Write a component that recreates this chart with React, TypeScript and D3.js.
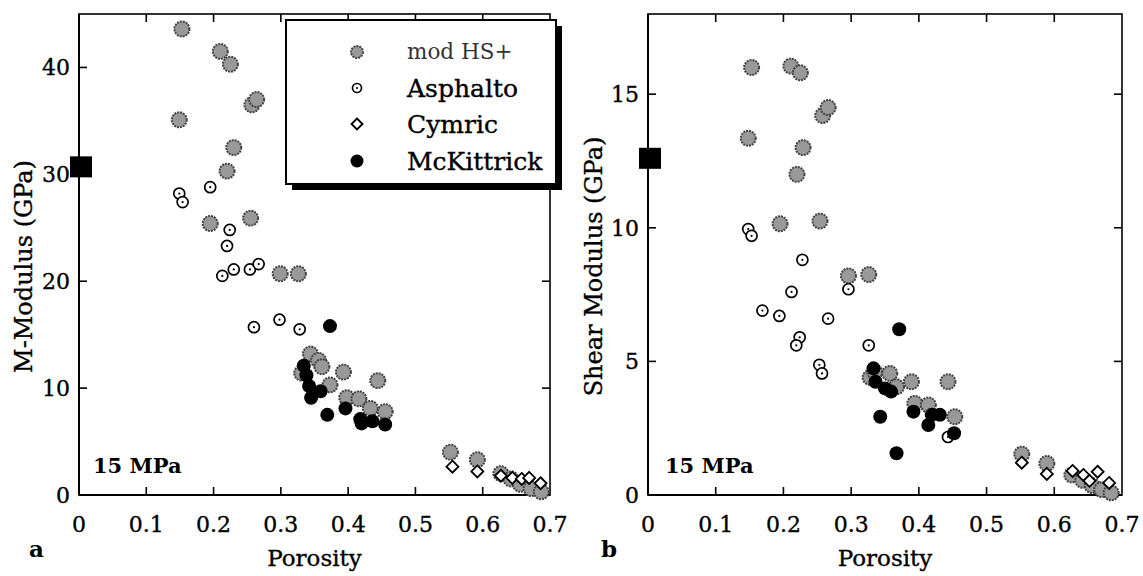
import React from 'react';
import * as d3 from 'd3';

type Pt = [number, number];

const xTicks = [0, 0.1, 0.2, 0.3, 0.4, 0.5, 0.6, 0.7];
const mTicks = [0, 10, 20, 30, 40];
const sTicks = [0, 5, 10, 15];

// Panel a: M-Modulus (GPa) vs porosity
const modHS_M: Pt[] = [
  [0.153, 43.6], [0.21, 41.5], [0.225, 40.3], [0.257, 36.5], [0.264, 37.0], [0.149, 35.1],
  [0.23, 32.5], [0.22, 30.3], [0.195, 25.4], [0.255, 25.9], [0.299, 20.7], [0.326, 20.7],
  [0.331, 11.4], [0.344, 13.2], [0.356, 12.6], [0.361, 12.0], [0.373, 10.3], [0.393, 11.5],
  [0.444, 10.7], [0.398, 9.1], [0.416, 9.0], [0.433, 8.1], [0.455, 7.8],
  [0.552, 4.0], [0.592, 3.3], [0.627, 2.0], [0.642, 1.5], [0.656, 1.0], [0.672, 0.6], [0.687, 0.3],
];
const asphalto_M: Pt[] = [
  [0.149, 28.2], [0.154, 27.4], [0.195, 28.8], [0.224, 24.8], [0.22, 23.3], [0.213, 20.5],
  [0.23, 21.1], [0.254, 21.1], [0.267, 21.6], [0.26, 15.7], [0.298, 16.4], [0.328, 15.5],
];
const cymric_M: Pt[] = [
  [0.555, 2.65], [0.592, 2.2], [0.627, 1.8], [0.644, 1.6], [0.658, 1.5], [0.669, 1.6], [0.686, 1.1],
];
const mckittrick_M: Pt[] = [
  [0.373, 15.8], [0.334, 12.1], [0.338, 11.2], [0.342, 10.2], [0.345, 9.1], [0.359, 9.7],
  [0.369, 7.5], [0.396, 8.1], [0.418, 7.1], [0.42, 6.7], [0.436, 6.9], [0.455, 6.6],
];
const mineral_M = 30.7;

// Panel b: Shear Modulus (GPa) vs porosity
const modHS_S: Pt[] = [
  [0.153, 16.0], [0.211, 16.05], [0.225, 15.8], [0.258, 14.2], [0.266, 14.5], [0.148, 13.35],
  [0.229, 13.0], [0.22, 12.0], [0.195, 10.15], [0.254, 10.25], [0.296, 8.2], [0.326, 8.25],
  [0.328, 4.4], [0.335, 4.6], [0.357, 4.55], [0.367, 4.05], [0.389, 4.24], [0.443, 4.24],
  [0.394, 3.43], [0.414, 3.37], [0.453, 2.93],
  [0.552, 1.53], [0.589, 1.18], [0.626, 0.75], [0.642, 0.55], [0.656, 0.35], [0.67, 0.2], [0.684, 0.08],
];
const asphalto_S: Pt[] = [
  [0.148, 9.95], [0.153, 9.7], [0.228, 8.8], [0.212, 7.6], [0.169, 6.9], [0.194, 6.7],
  [0.266, 6.6], [0.224, 5.9], [0.219, 5.6], [0.253, 4.87], [0.257, 4.55], [0.296, 7.7],
  [0.326, 5.6], [0.443, 2.17],
];
const cymric_S: Pt[] = [
  [0.552, 1.21], [0.589, 0.79], [0.627, 0.9], [0.643, 0.75], [0.652, 0.53], [0.664, 0.87], [0.681, 0.45],
];
const mckittrick_S: Pt[] = [
  [0.371, 6.2], [0.333, 4.74], [0.336, 4.24], [0.35, 3.99], [0.359, 3.87], [0.343, 2.93],
  [0.367, 1.56], [0.392, 3.12], [0.414, 2.62], [0.419, 3.0], [0.431, 3.0], [0.452, 2.31],
];
const mineral_S = 12.6;

const legendLabels = ['mod HS+', 'Asphalto', 'Cymric', 'McKittrick'];

const SERIF: React.CSSProperties = { fontFamily: '"DejaVu Serif", serif' };
const HEAVY = { stroke: '#000', strokeWidth: 0.35 };
const GRAY_FILL = '#999';
const GRAY_STROKE = '#444';

function ModMark({ cx, cy, r = 7.5 }: { cx: number; cy: number; r?: number }) {
  return <circle cx={cx} cy={cy} r={r} fill={GRAY_FILL} stroke={GRAY_STROKE} strokeWidth={2} strokeDasharray="2 1" />;
}
function AsphMark({ cx, cy, r = 5.5 }: { cx: number; cy: number; r?: number }) {
  return (
    <g>
      <circle cx={cx} cy={cy} r={r} fill="#fff" stroke="#000" strokeWidth={1.7} />
      <circle cx={cx} cy={cy} r={1.1} fill="#000" />
    </g>
  );
}
function DiamMark({ cx, cy, s = 6 }: { cx: number; cy: number; s?: number }) {
  const d = `M${cx},${cy - s}L${cx + s},${cy}L${cx},${cy + s}L${cx - s},${cy}Z`;
  return <path d={d} fill="#fff" stroke="#000" strokeWidth={1.8} />;
}
function McKMark({ cx, cy, r = 7 }: { cx: number; cy: number; r?: number }) {
  return <circle cx={cx} cy={cy} r={r} fill="#000" />;
}

type PanelProps = {
  left: number; right: number; top: number; bottom: number;
  yMax: number; yTicks: number[]; yLabel: string; yLabelX: number; letter: string; letterX: number;
  mod: Pt[]; asph: Pt[]; cym: Pt[]; mck: Pt[]; square: number; pressX: number;
};

function Panel(p: PanelProps) {
  const x = d3.scaleLinear().domain([0, 0.7]).range([p.left, p.right]);
  const y = d3.scaleLinear().domain([0, p.yMax]).range([p.bottom, p.top]);
  const tl = 8;
  const fmt = (v: number) => (v === 0 ? '0' : d3.format('.1f')(v));
  return (
    <g>
      <rect x={p.left} y={p.top} width={p.right - p.left} height={p.bottom - p.top}
        fill="none" stroke="#000" strokeWidth={1.6} />
      <line x1={p.left} x2={p.right} y1={p.bottom} y2={p.bottom} stroke="#000" strokeWidth={2.2} />
      <line x1={p.left} x2={p.left} y1={p.top} y2={p.bottom} stroke="#000" strokeWidth={2} />
      {xTicks.slice(1, -1).map((t) => (
        <g key={'xt' + t}>
          <line x1={x(t)} x2={x(t)} y1={p.bottom} y2={p.bottom - tl} stroke="#000" strokeWidth={1.6} />
          <line x1={x(t)} x2={x(t)} y1={p.top} y2={p.top + tl} stroke="#000" strokeWidth={1.6} />
        </g>
      ))}
      {xTicks.map((t) => (
        <text key={'xl' + t} x={x(t)} y={532} textAnchor="middle" fontSize={22} style={SERIF} {...HEAVY}>{fmt(t)}</text>
      ))}
      {p.yTicks.map((t) => (
        <g key={'yt' + t}>
          {t > 0 && <line x1={p.left} x2={p.left + tl} y1={y(t)} y2={y(t)} stroke="#000" strokeWidth={1.6} />}
          {t > 0 && <line x1={p.right} x2={p.right - tl} y1={y(t)} y2={y(t)} stroke="#000" strokeWidth={1.6} />}
          <text x={p.left - 9} y={y(t)} dy="0.36em" textAnchor="end" fontSize={22} style={SERIF} {...HEAVY}>{t}</text>
        </g>
      ))}
      <text x={(p.left + p.right) / 2} y={566} textAnchor="middle" fontSize={23} style={SERIF} {...HEAVY}>Porosity</text>
      <text transform={`translate(${p.yLabelX},${(p.top + p.bottom) / 2 + 12}) rotate(-90)`}
        textAnchor="middle" fontSize={24} style={SERIF} {...HEAVY}>{p.yLabel}</text>
      <text x={p.letterX} y={557} fontSize={23} fontWeight="bold" style={SERIF}>{p.letter}</text>
      <text x={p.pressX} y={473} fontSize={21} fontWeight="bold" style={SERIF}>15 MPa</text>
      <rect x={x(0) - 9} y={y(p.square) - 10.5} width={22} height={21} fill="#000" />
      {p.mod.map((d, i) => <ModMark key={'m' + i} cx={x(d[0])} cy={y(d[1])} />)}
      {p.asph.map((d, i) => <AsphMark key={'a' + i} cx={x(d[0])} cy={y(d[1])} />)}
      {p.cym.map((d, i) => <DiamMark key={'c' + i} cx={x(d[0])} cy={y(d[1])} />)}
      {p.mck.map((d, i) => <McKMark key={'k' + i} cx={x(d[0])} cy={y(d[1])} />)}
    </g>
  );
}

function Legend() {
  const bx = 286, by = 20, bw = 270, bh = 164, sh = 6;
  const rows = [52, 88, 124, 161];
  const mx = 357, tx = 407;
  return (
    <g>
      <path d={`M${bx + sh},${by + bh}L${bx + sh},${by + bh + sh}L${bx + bw + sh},${by + bh + sh}L${bx + bw + sh},${by + sh}L${bx + bw},${by + sh}L${bx + bw},${by + bh}Z`} fill="#000" />
      <rect x={bx} y={by} width={bw} height={bh} fill="#fff" stroke="#000" strokeWidth={2} />
      <ModMark cx={mx} cy={rows[0]} r={6} />
      <AsphMark cx={mx} cy={rows[1]} r={4.5} />
      <DiamMark cx={mx} cy={rows[2]} s={5.5} />
      <McKMark cx={mx} cy={rows[3]} r={6.5} />
      <text x={tx} y={rows[0] + 7} fontSize={21.5} fill="#333" style={SERIF}>{legendLabels[0]}</text>
      {legendLabels.slice(1).map((l, i) => (
        <text key={l} x={tx} y={rows[i + 1] + 9} fontSize={25} style={SERIF} {...HEAVY}>{l}</text>
      ))}
    </g>
  );
}

export default function App() {
  return (
    <svg width={1143} height={576} style={{ position: 'absolute', left: 0, top: 0, background: '#fff' }}>
      <rect width={1143} height={576} fill="#fff" />
      <Panel left={79} right={550} top={14} bottom={495} yMax={45} yTicks={mTicks}
        yLabel="M-Modulus (GPa)" yLabelX={32} letter="a" letterX={29}
        mod={modHS_M} asph={asphalto_M} cym={cymric_M} mck={mckittrick_M} square={mineral_M} pressX={93} />
      <Panel left={648} right={1122} top={14} bottom={495} yMax={18} yTicks={sTicks}
        yLabel="Shear Modulus (GPa)" yLabelX={602} letter="b" letterX={601}
        mod={modHS_S} asph={asphalto_S} cym={cymric_S} mck={mckittrick_S} square={mineral_S} pressX={665} />
      <Legend />
    </svg>
  );
}
